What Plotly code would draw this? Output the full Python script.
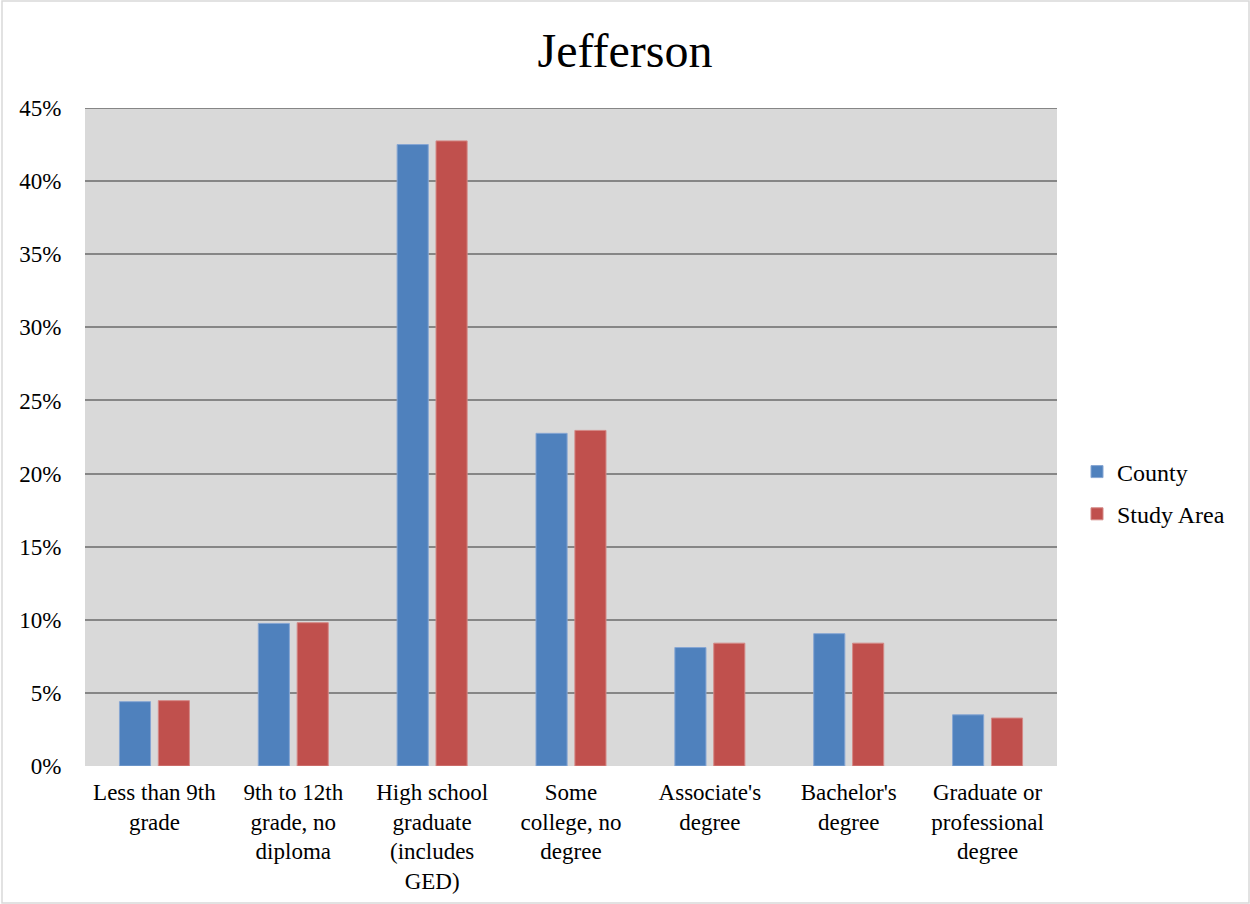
import plotly.graph_objects as go

categories = [
    "Less than 9th<br>grade",
    "9th to 12th<br>grade, no<br>diploma",
    "High school<br>graduate<br>(includes<br>GED)",
    "Some<br>college, no<br>degree",
    "Associate's<br>degree",
    "Bachelor's<br>degree",
    "Graduate or<br>professional<br>degree",
]
county = [4.4, 9.75, 42.5, 22.75, 8.1, 9.05, 3.5]
study_area = [4.47, 9.8, 42.75, 22.95, 8.4, 8.4, 3.28]
y_ticks = [0, 5, 10, 15, 20, 25, 30, 35, 40, 45]

FONT = "Liberation Serif, Times New Roman, serif"
W, H = 1250, 904
ML, MR, MT, MB = 85, 193, 108, 138
PW, PH = W - ML - MR, H - MT - MB

fig = go.Figure()
fig.add_trace(go.Bar(
    name="County", x=categories, y=county, legendgroup="a",
    marker=dict(color="#4F81BD", line=dict(color="#86A6D3", width=1)),
))
fig.add_trace(go.Bar(
    name="Study Area", x=categories, y=study_area, legendgroup="b",
    marker=dict(color="#C0504D", line=dict(color="#D48986", width=1)),
))

fig.update_layout(
    width=W, height=H,
    margin=dict(l=ML, r=MR, t=MT, b=MB, autoexpand=False),
    paper_bgcolor="white",
    plot_bgcolor="#D9D9D9",
    barmode="group",
    bargap=0.44,
    bargroupgap=0.2,
    font=dict(family=FONT, size=23, color="black"),
    title=dict(text="Jefferson", x=0.5, xanchor="center", y=1 - 50 / H, yanchor="middle",
               font=dict(family=FONT, size=48, color="black")),
    showlegend=True,
    legend=dict(x=(1077 - ML) / PW, xanchor="left", y=(H - MB - 493) / PH, yanchor="middle",
                font=dict(family=FONT, size=24, color="black"),
                bgcolor="rgba(0,0,0,0)", itemwidth=30, tracegroupgap=8,
                traceorder="grouped"),
    xaxis=dict(showgrid=False, showline=False, zeroline=False,
               ticks="outside", ticklen=5, tickcolor="rgba(0,0,0,0)",
               tickfont=dict(family=FONT, size=23, color="black"), tickangle=0),
    yaxis=dict(range=[0, 45], tickvals=y_ticks, ticktext=[f"{v}%" for v in y_ticks],
               showgrid=True, gridcolor="#868686", gridwidth=2,
               zeroline=False, showline=False,
               ticks="outside", ticklen=18, tickcolor="rgba(0,0,0,0)",
               tickfont=dict(family=FONT, size=23, color="black")),
    shapes=[
        dict(type="line", xref="paper", yref="y", x0=0, x1=1,
             y0=y_ticks[-1], y1=y_ticks[-1], line=dict(color="#868686", width=2)),
        dict(type="rect", xref="paper", yref="paper",
             x0=(2 - ML) / PW, x1=(W - 1 - ML) / PW,
             y0=(H - MB - (H - 1)) / PH, y1=(H - MB - 1) / PH,
             line=dict(color="#D9D9D9", width=1.5), fillcolor="rgba(0,0,0,0)", layer="below"),
    ],
)

fig.write_html("out.html")
